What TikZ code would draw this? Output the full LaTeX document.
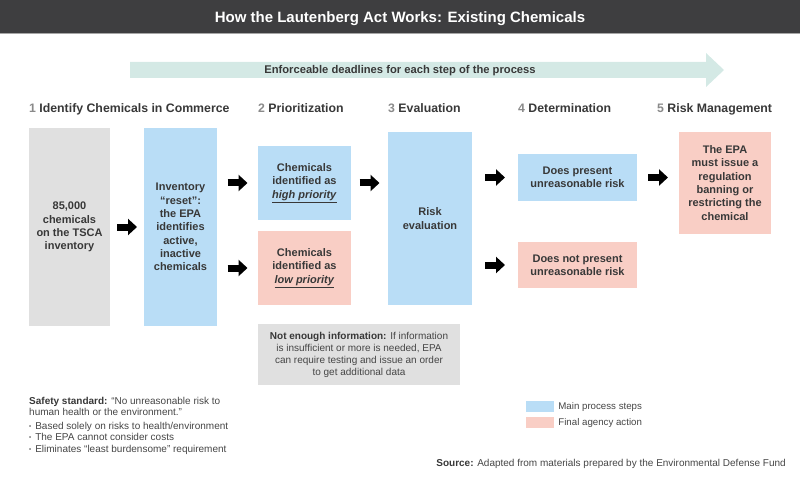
\documentclass[tikz,border=0pt]{standalone}
\usepackage{fontspec}
\setmainfont{Liberation Sans}
\usetikzlibrary{arrows.meta,calc,positioning}
\definecolor{BarClr}{HTML}{3E3E40}
\definecolor{DeadlineClr}{HTML}{D4E9E5}
\definecolor{GreyBoxClr}{HTML}{E0E0E0}
\definecolor{MainClr}{HTML}{B9DDF6}
\definecolor{FinalClr}{HTML}{F9CEC5}
\definecolor{TextClr}{HTML}{383838}
\definecolor{NumClr}{HTML}{8A8A8A}
\definecolor{SoftClr}{HTML}{454545}

\tikzset{
  box/.style={rectangle,inner sep=0pt,align=center,text=TextClr,
    font=\bfseries\fontsize{11}{13.3}\selectfont},
  greybox/.style={box,fill=GreyBoxClr},
  mainbox/.style={box,fill=MainClr},
  finalbox/.style={box,fill=FinalClr},
  heading/.style={anchor=base west,inner sep=0pt,text=TextClr,
    font=\bfseries\fontsize{12.3}{14}\selectfont},
  blk/.style={line width=7pt,-{Triangle[width=16pt,length=9pt]}},
  note/.style={inner sep=0pt,align=left,text=SoftClr,font=\fontsize{10}{11}\selectfont},
  swatch/.style={rectangle,inner sep=0pt,minimum width=28pt,minimum height=11pt},
}
% block arrow centred in the gap between #1 and #2, at the height of #3
\newcommand{\stepArrow}[3]{%
  \path (#1.east |- #3) coordinate (#1-#2-a) -- (#2.west |- #3) coordinate (#1-#2-b);
  \draw[blk] ($(#1-#2-a)!.5!(#1-#2-b)+(-10,0)$) -- ($(#1-#2-a)!.5!(#1-#2-b)+(10,0)$);}
\newcommand{\bul}{\raisebox{1pt}{\fontsize{6}{6}\selectfont\textbullet}\hspace{4pt}}

\begin{document}
\begin{tikzpicture}[x=1pt,y=-1pt]
\useasboundingbox (0,0) rectangle (800,481);

% title bar
\fill[BarClr] (0,0) rectangle (800,33);
\draw[line width=1.5pt,gray!70] (0,33.75) -- (800,33.75);
\node[text=white,font=\bfseries\fontsize{15}{18}\selectfont,anchor=base] (title) at (400,22.3)
  {How the Lautenberg Act Works: Existing Chemicals};

% deadline arrow
\fill[DeadlineClr] (130,62) -- (706,62) -- (706,53) -- (724,70) -- (706,87) -- (706,78) -- (130,78) -- cycle;
\node[text=TextClr,font=\bfseries\fontsize{11.2}{13}\selectfont,anchor=base] (deadline) at (400,74)
  {Enforceable deadlines for each step of the process};

% step headings
\node[heading] (h1) at (29,112.5) {\textcolor{NumClr}{1} Identify Chemicals in Commerce};
\node[heading] (h2) at (258,112.5) {\textcolor{NumClr}{2} Prioritization};
\node[heading] (h3) at (388,112.5) {\textcolor{NumClr}{3} Evaluation};
\node[heading] (h4) at (518,112.5) {\textcolor{NumClr}{4} Determination};
\node[heading] (h5) at (657,112.5) {\textcolor{NumClr}{5} Risk Management};

% boxes
\node[greybox,minimum width=81,minimum height=198] (tsca) at (69.5,227)
  {85,000\\chemicals\\on the TSCA\\inventory};
\node[mainbox,minimum width=73,minimum height=198] (inv) at (180.5,227)
  {Inventory\\“reset”:\\the EPA\\identifies\\active,\\inactive\\chemicals};
\node[mainbox,minimum width=93,minimum height=74] (high) at (304.5,183)
  {Chemicals\\identified as\\\underline{\textit{high priority}}};
\node[finalbox,minimum width=93,minimum height=74] (low) at (304.5,268)
  {Chemicals\\identified as\\\underline{\textit{low priority}}};
\node[mainbox,minimum width=84,minimum height=173] (eval) at (430,218.5)
  {Risk\\evaluation};
\node[mainbox,minimum width=119,minimum height=47] (present) at (577.5,177.5)
  {Does present\\unreasonable risk};
\node[finalbox,minimum width=119,minimum height=46] (notpresent) at (577.5,265)
  {Does not present\\unreasonable risk};
\node[finalbox,minimum width=92,minimum height=102] (riskmgmt) at (725,183)
  {The EPA\\must issue a\\regulation\\banning or\\restricting the\\chemical};
\node[greybox,minimum width=202,minimum height=61,text=SoftClr,
  font=\fontsize{10}{12}\selectfont] (noinfo) at (359,354.5)
  {\textcolor{TextClr}{\textbf{Not enough information:}} If information\\
   is insufficient or more is needed, EPA\\can require testing and issue an order\\to get additional data};

% arrows
\stepArrow{tsca}{inv}{inv}
\stepArrow{inv}{high}{high}
\stepArrow{inv}{low}{low}
\stepArrow{high}{eval}{high}
\stepArrow{eval}{present}{present}
\stepArrow{eval}{notpresent}{notpresent}
\stepArrow{present}{riskmgmt}{present}

% safety standard
\node[note,anchor=north west] (safety) at (29,397)
  {\textcolor{TextClr}{\textbf{Safety standard:}} “No unreasonable risk to\\human health or the environment.”};
\node[note,anchor=north west,font=\fontsize{10}{11.5}\selectfont] (bullets) at (29,422)
  {\bul Based solely on risks to health/environment\\
   \bul The EPA cannot consider costs\\
   \bul Eliminates “least burdensome” requirement};

% legend
\node[swatch,fill=MainClr] (keymain) at (540,406.5) {};
\node[note,right=4pt of keymain,font=\fontsize{9.7}{11}\selectfont] (keymaintxt) {Main process steps};
\node[swatch,fill=FinalClr] (keyfinal) at (540,422.5) {};
\node[note,right=4pt of keyfinal,font=\fontsize{9.7}{11}\selectfont] (keyfinaltxt) {Final agency action};

% source
\node[note,anchor=base east] (source) at (786,466.5)
  {\textcolor{TextClr}{\textbf{Source:}} Adapted from materials prepared by the Environmental Defense Fund};
\end{tikzpicture}
\end{document}
